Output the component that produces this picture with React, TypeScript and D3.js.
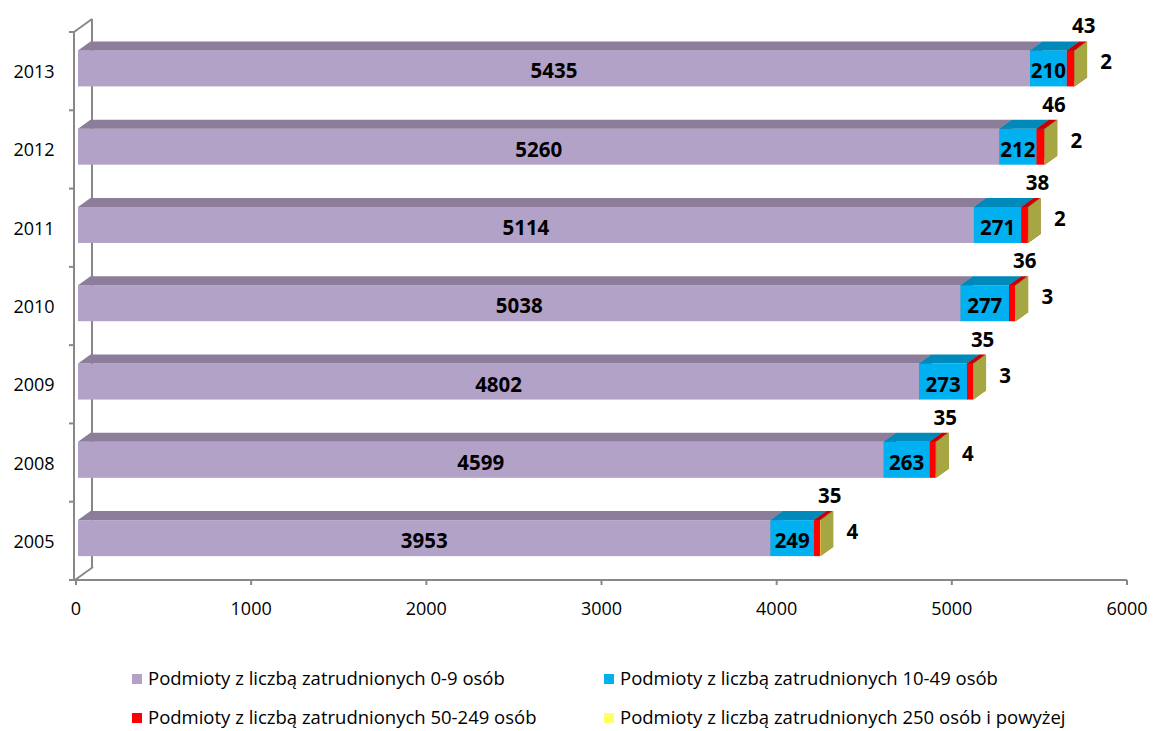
import React, { useEffect } from "react";
import * as d3 from "d3";

const years = ["2013", "2012", "2011", "2010", "2009", "2008", "2005"];
const micro = [5435, 5260, 5114, 5038, 4802, 4599, 3953];
const small = [210, 212, 271, 277, 273, 263, 249];
const medium = [43, 46, 38, 36, 35, 35, 35];
const large = [2, 2, 2, 3, 3, 4, 4];
const xTicks = [0, 1000, 2000, 3000, 4000, 5000, 6000];
const seriesNames = [
  "Podmioty z liczbą zatrudnionych 0-9 osób",
  "Podmioty z liczbą zatrudnionych 10-49 osób",
  "Podmioty z liczbą zatrudnionych 50-249 osób",
  "Podmioty z liczbą zatrudnionych 250 osób i powyżej",
];
const seriesColors = ["#B3A2C7", "#00B0F0", "#FF0000", "#FFFF66"];

const W = 1153;
const H = 731;
const FONT = "'Open Sans', 'Liberation Sans', sans-serif";

function shade(c: string, f: number) {
  const r = d3.rgb(c);
  return d3.rgb(r.r * f, r.g * f, r.b * f).formatHex();
}

export default function App() {
  useEffect(() => {
    document.body.style.margin = "0";
  }, []);

  const x = d3.scaleLinear().domain([0, 6000]).range([76, 1127]);
  const y = d3.scaleBand<string>().domain(years).range([32, 580]).padding(0);
  const bw = y.bandwidth();
  const barOff = 2;
  const dx = 12.5;
  const dy = -9;
  const wallDx = 18;
  const wallDy = -13;
  const axisColor = "#888888";
  const floorY = 580;
  const frontX = 74;
  const labelSize = 20.5;

  const series = [micro, small, medium, large];

  const bars: React.ReactNode[] = [];
  const labels: React.ReactNode[] = [];

  years.forEach((yr, i) => {
    const top = (y(yr) as number) + bw * 0.235;
    const bottom = (y(yr) as number) + bw * 0.695;
    const fc = (top + bottom) / 2;
    let cum = 0;
    series.forEach((s, k) => {
      const v = s[i];
      const x0 = x(cum) + barOff;
      const x1 = x(cum + v) + barOff;
      cum += v;
      const col = seriesColors[k];
      bars.push(
        <g key={`b${i}-${k}`}>
          <rect x={x0} y={top} width={Math.max(x1 - x0, 0.01)} height={bottom - top} fill={col} />
          <polygon
            points={`${x0},${top} ${x0 + dx},${top + dy} ${x1 + dx},${top + dy} ${x1},${top}`}
            fill={shade(col, 0.78)}
          />
          <polygon
            points={`${x1},${top} ${x1 + dx},${top + dy} ${x1 + dx},${bottom + dy} ${x1},${bottom}`}
            fill={shade(col, 0.65)}
          />
        </g>
      );
      let lx = (x0 + x1) / 2;
      let ly = fc + 2;
      if (k === 2) {
        lx = x1 + dx - 3;
        ly = top + dy - 16;
      } else if (k === 3) {
        lx = x1 + dx + 19;
        ly = fc - 7;
      }
      labels.push(
        <text
          key={`l${i}-${k}`}
          x={lx}
          y={ly}
          textAnchor="middle"
          dominantBaseline="central"
          fontFamily={FONT}
          fontWeight={700}
          fontSize={labelSize}
          fill="#000"
        >
          {v}
        </text>
      );
    });
  });

  const bandEdges = [...years.map((yr) => y(yr) as number), 580];

  return (
    <svg
      width={W}
      height={H}
      style={{ position: "absolute", left: 0, top: 0, background: "#fff" }}
    >
      <g stroke={axisColor} strokeWidth={2} fill="none">
        <line x1={frontX + wallDx} y1={32 + wallDy} x2={frontX + wallDx} y2={floorY + wallDy} />
        <line x1={frontX} y1={32} x2={frontX + wallDx} y2={32 + wallDy} />
        <line x1={frontX + 1} y1={floorY} x2={frontX + wallDx + 1} y2={floorY + wallDy} />
        <line x1={frontX} y1={32} x2={frontX} y2={floorY} />
        <line x1={frontX} y1={floorY} x2={x(6000)} y2={floorY} />
        {bandEdges.map((e, i) => (
          <line key={`yt${i}`} x1={frontX - 5} y1={e} x2={frontX} y2={e} />
        ))}
        {xTicks.map((t) => (
          <line key={`xt${t}`} x1={x(t)} y1={floorY} x2={x(t)} y2={floorY + 5} />
        ))}
      </g>
      {bars}
      {labels}
      {years.map((yr) => (
        <text
          key={`yl${yr}`}
          x={34}
          y={(y(yr) as number) + bw / 2}
          textAnchor="middle"
          dominantBaseline="central"
          fontFamily={FONT}
          fontSize={18}
          fill="#000"
        >
          {yr}
        </text>
      ))}
      {xTicks.map((t) => (
        <text
          key={`xl${t}`}
          x={x(t)}
          y={608}
          textAnchor="middle"
          dominantBaseline="central"
          fontFamily={FONT}
          fontSize={18}
          fill="#000"
        >
          {t}
        </text>
      ))}
      {seriesNames.map((n, k) => {
        const col = k % 2;
        const row = Math.floor(k / 2);
        const sx = col === 0 ? 132 : 604;
        const by = row === 0 ? 685 : 724;
        return (
          <g key={`lg${k}`}>
            <rect x={sx} y={by - 11} width={10} height={10} fill={seriesColors[k]} />
            <text x={sx + 16} y={by} fontFamily={FONT} fontSize={18.5} fill="#000">
              {n}
            </text>
          </g>
        );
      })}
    </svg>
  );
}
